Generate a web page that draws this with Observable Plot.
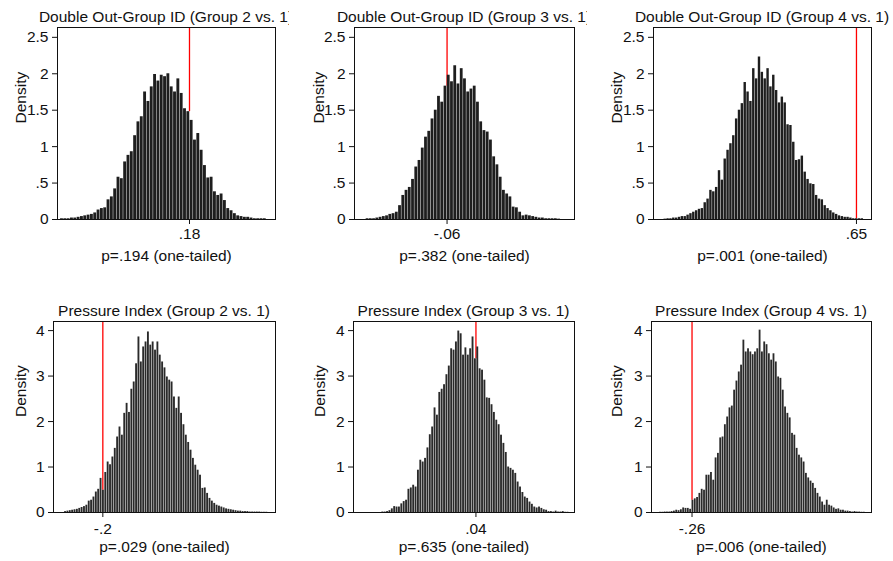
<!DOCTYPE html>
<html><head><meta charset="utf-8">
<script src="https://cdn.jsdelivr.net/npm/d3@7"></script>
<script src="https://cdn.jsdelivr.net/npm/@observablehq/plot@0.6"></script>
<style>
body{margin:0;background:#fff;}
#chart{position:relative;width:893px;height:561px;overflow:hidden;background:#fff;font-family:"Liberation Sans",Arial,Helvetica,sans-serif;}
.panel{position:absolute;}
.panel svg{position:absolute;left:0;top:0;}
.tclip{position:absolute;left:0;top:0;overflow:hidden;}
.title{position:absolute;white-space:nowrap;font-size:15.5px;line-height:18px;color:#111;transform:translateX(-50%);}
</style></head><body><div id="chart"></div>
<script>
// ---------- data ----------
const titles = [
  "Double Out-Group ID (Group 2 vs. 1)",
  "Double Out-Group ID (Group 3 vs. 1)",
  "Double Out-Group ID (Group 4 vs. 1)",
  "Pressure Index (Group 2 vs. 1)",
  "Pressure Index (Group 3 vs. 1)",
  "Pressure Index (Group 4 vs. 1)"
];
const observed = [0.18, -0.06, 0.65, -0.2, 0.04, -0.26];
const pLabels = [
  "p=.194 (one-tailed)", "p=.382 (one-tailed)", "p=.001 (one-tailed)",
  "p=.029 (one-tailed)", "p=.635 (one-tailed)", "p=.006 (one-tailed)"
];
const yLabel = "Density";
const binStart = [-0.712, -0.663, -0.63, -0.355, -0.275, -0.372];
const binWidth = [0.023, 0.0242, 0.019, 0.0096, 0.00795, 0.008];
const yTicksTop = [0, 0.5, 1, 1.5, 2, 2.5];
const yTicksBottom = [0, 1, 2, 3, 4];

const dens1 = [0.01,0.01,0.01,0.02,0.02,0.03,0.04,0.05,0.06,0.07,0.09,0.13,
  0.15,0.16,0.27,0.31,0.42,0.58,0.56,0.79,0.88,0.93,1.15,1.34,1.41,1.75,1.62,1.82,1.99,1.90,1.98,1.96,
  2.00,1.82,1.75,1.93,1.73,1.52,1.48,1.36,1.09,1.18,0.95,0.74,0.57,0.58,0.38,0.33,0.35,0.26,0.15,0.12,0.08,0.05,
  0.04,0.03,0.03,0.02,0.01,0.01,0.01,0.01];
const dens2 = [0.01,0.01,0.01,0.02,0.03,0.04,0.05,0.07,0.08,
  0.10,0.19,0.33,0.40,0.44,0.55,0.72,0.81,0.98,1.13,1.21,1.38,1.50,1.69,1.61,1.83,1.98,1.89,2.11,1.86,
  2.07,1.93,1.75,1.79,1.83,1.61,1.34,1.22,1.20,1.09,0.86,0.75,0.58,0.40,0.35,0.31,0.17,0.16,0.10,0.05,
  0.06,0.05,0.04,0.03,0.02,0.02,0.01,0.01,0.01,0.01,0.005];
const dens3 = [0.005,0.01,0.01,0.02,0.02,0.03,0.04,0.04,0.06,0.08,0.10,
  0.12,0.14,0.15,0.23,0.28,0.40,0.38,0.44,0.67,0.54,0.83,0.95,1.04,1.15,1.38,1.50,1.59,1.88,1.75,1.62,
  2.07,1.93,2.23,2.02,1.93,2.07,1.82,1.98,1.77,1.60,1.68,1.60,1.30,1.29,1.06,0.81,0.82,0.87,0.65,0.55,
  0.49,0.48,0.33,0.28,0.27,0.19,
  0.15,0.12,0.09,0.07,0.05,0.04,0.03,0.03,0.02,0.01,0.01,0.01,0.01];
const dens4 = [0.02,0.03,0.04,0.05,0.06,0.07,0.09,0.11,0.13,
  0.16,0.25,0.27,0.34,0.45,0.51,0.75,0.49,0.88,1.11,1.05,1.22,1.41,1.66,1.88,1.70,2.18,2.40,2.20,2.71,
  2.87,3.27,3.86,3.31,3.64,3.75,3.97,3.68,3.75,3.57,3.75,3.46,3.31,3.18,2.98,2.91,2.87,2.54,2.29,2.54,
  2.18,1.93,1.70,1.54,1.37,1.19,1.04,0.93,0.82,0.53,0.54,0.42,0.31,0.25,0.20,
  0.16,0.14,0.12,0.10,0.08,0.07,0.06,0.05,0.04,0.03,0.03,0.02,0.02,0.02,0.01,0.01,0.01,0.01,0.01,0.005,0.005,0.005];
const dens5 = [0.01,0.01,0.02,0.04,0.08,0.13,0.12,0.12,0.19,0.24,
  0.27,0.51,0.54,0.60,0.56,0.93,1.15,1.11,1.19,1.42,1.71,1.88,2.30,2.14,2.64,2.71,2.81,3.03,3.22,3.60,
  3.57,3.75,3.99,3.93,3.46,3.62,3.46,3.60,3.86,3.38,3.64,3.16,3.13,2.91,2.52,2.51,2.37,2.20,2.03,1.93,
  1.70,1.52,1.32,1.00,0.97,0.93,0.86,0.67,0.56,0.44,0.34,0.31,0.23,0.18,0.12,
  0.10,0.12,0.09,0.06,0.05,0.02,0.02,0.01,0.03,0.01,0.01,0.02,0.005,0.005];
const dens6 = [0.005,0.005,0.01,0.01,0.01,0.02,0.03,0.05,0.04,0.06,0.10,0.09,0.09,0.07,0.27,0.30,0.33,
  0.42,0.51,0.49,0.82,0.82,0.88,0.71,1.20,1.30,1.64,1.66,1.93,2.10,2.30,2.34,2.69,2.89,3.09,3.24,3.79,
  3.53,3.60,3.53,3.47,3.53,3.60,4.01,3.53,3.75,3.69,3.49,3.35,3.49,3.31,2.98,2.95,2.69,2.32,2.18,2.08,
  1.74,1.70,1.41,1.26,1.20,1.11,0.86,0.76,0.69,0.64,0.53,0.42,0.34,0.23,0.16,0.27,
  0.16,0.14,0.10,0.07,0.08,0.05,0.05,0.03,0.03,0.02,0.01,0.02,0.01,0.01,0.005,0.005];
const densities = [dens1, dens2, dens3, dens4, dens5, dens6];

// ---------- layout ----------
const FONT = '"Liberation Sans",Arial,Helvetica,sans-serif';
const layout = [
  {left:0,   top:0,   width:297, height:280, ml:57, mr:22, mt:27, mb:61, xd:[-0.733,0.775], yd:[0,2.635], ticks:yTicksTop, titleTop:8,  clipW:289, pad:3, pDy:41, yDx:-36, fill:"#1e1e1e", gap:0.45},
  {left:298, top:0,   width:297, height:280, ml:56, mr:21, mt:27, mb:61, xd:[-0.75,0.89],   yd:[0,2.635], ticks:yTicksTop, titleTop:8,  clipW:289, pad:3, pDy:41, yDx:-35, fill:"#1e1e1e", gap:0.45},
  {left:595, top:0,   width:298, height:280, ml:58, mr:22, mt:27, mb:61, xd:[-0.70,0.75],   yd:[0,2.635], ticks:yTicksTop, titleTop:8,  clipW:298, pad:3, pDy:41, yDx:-36, fill:"#1e1e1e", gap:0.45},
  {left:0,   top:280, width:297, height:281, ml:53, mr:22, mt:41, mb:49, xd:[-0.40,0.50],   yd:[0,4.2],   ticks:yTicksBottom, titleTop:22, clipW:297, pad:5, pDy:39, yDx:-32, fill:"#2a2a2a", gap:0.5},
  {left:298, top:280, width:297, height:281, ml:55, mr:21, mt:41, mb:49, xd:[-0.37,0.37],   yd:[0,4.2],   ticks:yTicksBottom, titleTop:22, clipW:297, pad:5, pDy:39, yDx:-33, fill:"#2a2a2a", gap:0.5},
  {left:595, top:280, width:298, height:281, ml:56, mr:22, mt:41, mb:49, xd:[-0.40,0.36],   yd:[0,4.2],   ticks:yTicksBottom, titleTop:22, clipW:298, pad:5, pDy:39, yDx:-34, fill:"#2a2a2a", gap:0.5}
];

const fmt = d => {
  if (d === 0) return "0";
  const s = String(+(+d).toFixed(4));
  return s.replace(/^(-?)0\./, "$1.");
};

const chart = document.getElementById("chart");
layout.forEach((L, k) => {
  const dens = densities[k];
  const bins = dens.map((v, i) => ({
    x1: binStart[k] + i * binWidth[k],
    x2: binStart[k] + (i + 1) * binWidth[k],
    v
  }));
  const obs = observed[k];
  const bi = Math.floor((obs - binStart[k]) / binWidth[k] + 1e-9);
  const under = (bi >= 0 && bi < dens.length) ? dens[bi] : 0;
  const svg = Plot.plot({
    width: L.width, height: L.height,
    marginLeft: L.ml, marginRight: L.mr, marginTop: L.mt, marginBottom: L.mb,
    style: {fontFamily: FONT, fontSize: "15.5px", color: "#111", background: "transparent", overflow: "visible"},
    x: {domain: L.xd},
    y: {domain: L.yd},
    marks: [
      Plot.ruleX([obs], {x: d => d, y1: under, y2: L.yd[1], stroke: "#ff0000", strokeWidth: 1.3}),
      Plot.rectY(bins, {x1: "x1", x2: "x2", y: "v", fill: L.fill, insetRight: L.gap}),
      Plot.frame({stroke: "#111", strokeWidth: 1}),
      Plot.axisY({ticks: L.ticks, tickFormat: fmt, tickSize: 5, tickPadding: 4, label: null, fontSize: 15.5}),
      Plot.axisX({ticks: [obs], tickFormat: fmt, tickSize: 5, tickPadding: L.pad, label: null, fontSize: 15.5}),
      Plot.text([yLabel], {text: d => d, frameAnchor: "left", rotate: -90, dx: L.yDx, fontSize: 15.5, fill: "#111"}),
      Plot.text([pLabels[k]], {text: d => d, frameAnchor: "bottom", dy: L.pDy, fontSize: 15.5, fill: "#111"})
    ]
  });
  const panel = document.createElement("div");
  panel.className = "panel";
  panel.style.left = L.left + "px";
  panel.style.top = L.top + "px";
  panel.style.width = L.width + "px";
  panel.style.height = L.height + "px";
  panel.appendChild(svg);
  const clip = document.createElement("div");
  clip.className = "tclip";
  clip.style.width = L.clipW + "px";
  clip.style.height = L.mt + "px";
  const t = document.createElement("div");
  t.className = "title";
  t.textContent = titles[k];
  t.style.left = (L.ml + (L.width - L.ml - L.mr) / 2) + "px";
  t.style.top = L.titleTop + "px";
  clip.appendChild(t);
  panel.appendChild(clip);
  chart.appendChild(panel);
});
</script>
</body></html>
